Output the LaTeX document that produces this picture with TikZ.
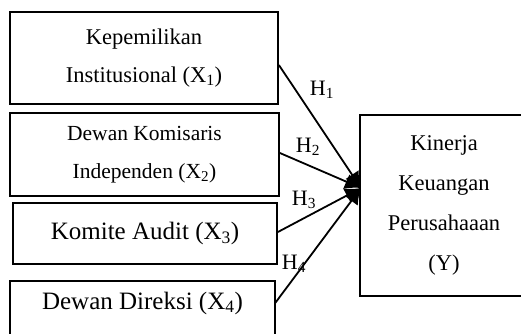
\documentclass[tikz,border=0pt]{standalone}
\usepackage{fontspec}
\setmainfont{Liberation Serif}
\usetikzlibrary{arrows.meta,calc}
\begin{document}
\begin{tikzpicture}[x=1pt,y=1pt,
  box/.style={draw,line width=1.8pt,align=center,inner sep=0pt},
  smallfont/.style={font=\fontsize{22.5}{38}\selectfont},
  bigfont/.style={font=\fontsize{25}{30}\selectfont},
  conn/.style={line width=1.8pt,-{Latex[length=16pt,width=16pt]}},
  hlab/.style={font=\fontsize{22}{26}\selectfont,inner sep=0pt}]
\useasboundingbox (0,0) rectangle (521,333);
\clip (0,0) rectangle (521,333);
\node[box,smallfont,minimum width=268,minimum height=92] (x1) at (144,275)
  {Kepemilikan\\Institusional (X\textsubscript{1})};
\node[box,font=\fontsize{21.5}{38}\selectfont,minimum width=269,minimum height=83] (x2) at (144.5,178.5)
  {Dewan Komisaris\\Independen (X\textsubscript{2})};
\node[box,bigfont,minimum width=264,minimum height=61] (x3) at (145,99.5)
  {Komite Audit (X\textsubscript{3})};
\node[bigfont,inner sep=0pt,minimum width=265] (x4) at (142.5,30)
  {Dewan Direksi (X\textsubscript{4})};
\draw[line width=1.8pt] (10,52) rectangle (275,-10);
\node[box,font=\fontsize{22.5}{40}\selectfont,minimum width=168,minimum height=181] (y) at (444,127.5)
  {Kinerja\\Keuangan\\Perusahaaan\\(Y)};
\coordinate (tip) at (361,145);
\draw[conn] ($(x1.east)+(0,-7)$) -- (tip);
\draw[conn] ($(x2.east)+(0,1.5)$) -- (tip);
\draw[conn] ($(x3.east)+(0,1.5)$) -- (tip);
\draw[conn] (x4.east) -- (tip);
\node[hlab] (h1) at (322,243) {H\textsubscript{1}};
\node[hlab] (h2) at (308,186) {H\textsubscript{2}};
\node[hlab] (h3) at (304,133) {H\textsubscript{3}};
\node[hlab] (h4) at (294,69) {H\textsubscript{4}};
\end{tikzpicture}
\end{document}
